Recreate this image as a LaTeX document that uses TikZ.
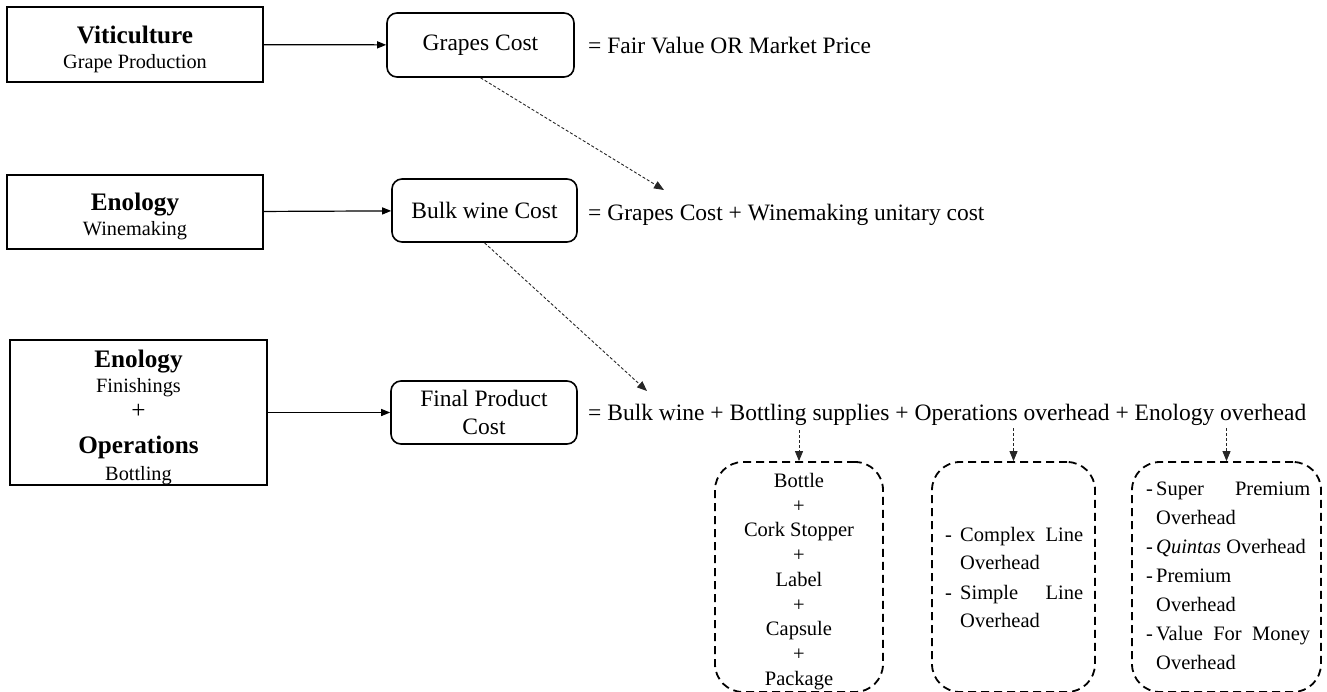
\documentclass[tikz,border=0pt]{standalone}
\usepackage{fontspec}
\setmainfont{Liberation Serif}
\usetikzlibrary{arrows.meta}
\newcommand{\mainsize}{\fontsize{23.5}{28}\selectfont}
\newcommand{\titlesize}{\fontsize{25.2}{25}\selectfont\bfseries}
\newcommand{\subsize}{\fontsize{20.3}{25}\selectfont}
\newcommand{\listsize}{\fontsize{20.5}{24.75}\selectfont}
% one dash-led entry with a hanging indent
\newcommand{\entry}[2]{\noindent\leftskip=#1pt\llap{\makebox[#1pt][l]{-}}#2\par}
\begin{document}
\begin{tikzpicture}[x=1pt,y=-1pt,
  stage/.style={draw, line width=1.8pt, inner sep=0pt},
  stagetext/.style={inner sep=0pt, align=center, font=\subsize},
  cost/.style={draw, line width=1.6pt, rounded corners=10pt, inner sep=0pt,
    align=center, font=\mainsize},
  part/.style={draw, line width=1.8pt, dash pattern=on 8pt off 5pt,
    rounded corners=28pt, inner sep=0pt},
  formula/.style={inner sep=0pt, anchor=base west, font=\mainsize},
  flow/.style={-{Triangle[length=9pt,width=7pt]}, line width=1.2pt},
  link/.style={-{Triangle[length=10pt,width=8pt]}, line width=0.9pt,
    dash pattern=on 3pt off 2pt, draw=black!85},
  listtext/.style={inner sep=0pt, font=\listsize},
]
\useasboundingbox (0,0) rectangle (1327,691);

% production stages
\node[stage, minimum width=256, minimum height=75] (vit) at (135,44.5) {};
\node[stagetext] (vitT) at (135,49)
  {\titlesize Viticulture\\\subsize Grape Production};
\node[stage, minimum width=256, minimum height=74] (eno) at (135,212) {};
\node[stagetext] (enoT) at (135,216)
  {\titlesize Enology\\\subsize Winemaking};
\node[stage, minimum width=257, minimum height=145] (fin) at (138.5,412.5) {};
\node[stagetext] (finT) at (138.5,417)
  {\titlesize Enology\\\subsize Finishings\\[1pt]
   \fontsize{25.2}{25}\selectfont +\\[10pt]
   \titlesize Operations\\[2pt]\subsize Bottling};

% cost objects
\node[cost, minimum width=187, minimum height=64] (grape) at (480.5,45) {\raisebox{-2.5pt}{Grapes Cost}};
\node[cost, minimum width=185, minimum height=63] (bulk) at (484.5,210.5) {Bulk wine Cost};
\node[cost, minimum width=186, minimum height=63] (final) at (484,412.5) {Final Product\\Cost};

% cost formulas
\node[formula] (f1) at (588,53) {= Fair Value OR Market Price};
\node[formula] (f2) at (588,220) {= Grapes Cost + Winemaking unitary cost};
\node[formula] (f3) at (588,420)
  {= Bulk wine + Bottling supplies + Operations overhead + Enology overhead};

% stage to cost
\draw[flow] (vit) -- (grape);
\draw[flow] (eno) -- (bulk);
\draw[flow] (fin) -- (final);

% cost carried into the next formula
\coordinate (g2) at (664,190);
\coordinate (b2) at (647,391);
\draw[link] (grape.south) -- (g2);
\draw[link] (bulk.south) -- (b2);

% breakdown boxes
\node[part, minimum width=168, minimum height=230] (p1) at (799,577) {};
\node[part, minimum width=163, minimum height=230] (p2) at (1013.5,577) {};
\node[part, minimum width=189, minimum height=230] (p3) at (1226.5,577) {};

\coordinate (s1) at (799,430);
\coordinate (s2) at (1013.5,428);
\coordinate (s3) at (1226.5,428);
\draw[link] (s1) -- (p1.north);
\draw[link] (s2) -- (p2.north);
\draw[link] (s3) -- (p3.north);

\node[listtext, align=center, anchor=north] (l1) at (799,473)
  {Bottle\\+\\Cork Stopper\\+\\Label\\+\\Capsule\\+\\Package};
\node[listtext, text width=138, align=justify, anchor=north west] (l2) at (945,527)
  {\tolerance=10000\hyphenpenalty=10000\baselineskip=28pt\parskip=2pt
   \entry{15}{Complex Line Overhead}\entry{15}{Simple Line Overhead}};
\node[listtext, text width=164, align=justify, anchor=north west] (l3) at (1146,482)
  {\tolerance=10000\hyphenpenalty=10000\baselineskip=29pt\parskip=0pt
   \entry{10}{Super Premium Overhead}\entry{10}{\textit{Quintas} Overhead}%
   \entry{10}{Premium Overhead}\entry{10}{Value For Money Overhead}};
\end{tikzpicture}
\end{document}
